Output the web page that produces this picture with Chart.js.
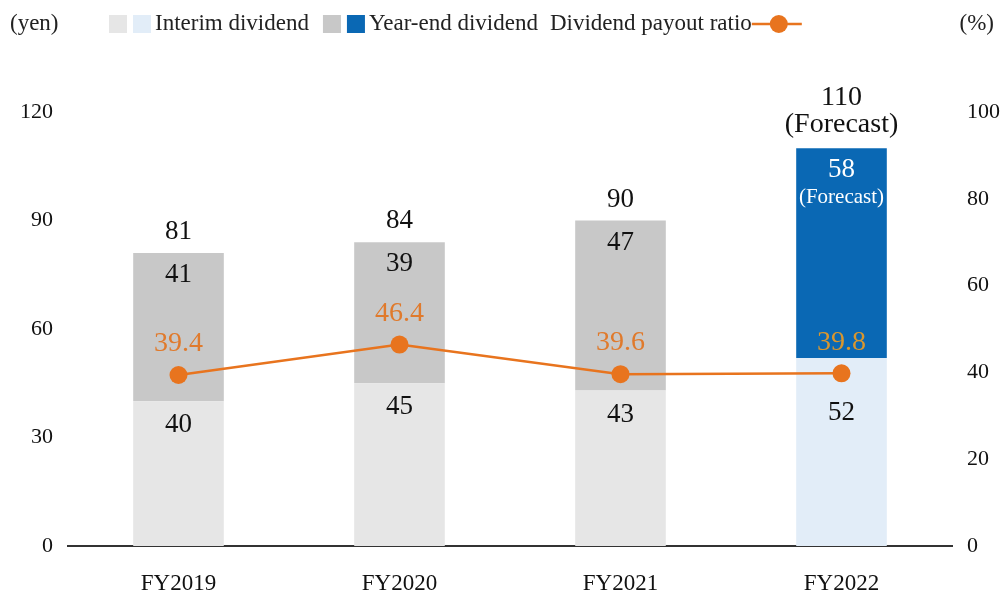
<!DOCTYPE html>
<html>
<head>
<meta charset="utf-8">
<script src="https://cdn.jsdelivr.net/npm/chart.js@4"></script>
<style>
  html, body { margin: 0; padding: 0; background: #fff; }
  #wrap { width: 1005px; height: 596px; }
</style>
</head>
<body>
<div id="wrap"><canvas id="chart"></canvas></div>
<script>
// chart data
var categories = ['FY2019', 'FY2020', 'FY2021', 'FY2022'];
var interim = [40, 45, 43, 52];
var yearEnd = [41, 39, 47, 58];
var totals = [81, 84, 90, 110];
var payoutRatio = [39.4, 46.4, 39.6, 39.8];
var forecast = [false, false, false, true];
var yenTicks = [0, 30, 60, 90, 120];
var pctTicks = [0, 20, 40, 60, 80, 100];

var FONT = '"Liberation Serif", "Times New Roman", serif';
var GRAY_LIGHT = '#e6e6e6', BLUE_LIGHT = '#e2edf8';
var GRAY_DARK = '#c8c8c8', BLUE_DARK = '#0a68b4';
var ORANGE = '#e8741e';

function pick(light, dark) {
    return forecast.map(function (f) { return f ? dark : light; });
}

// legend + units, drawn at the top
var legendPlugin = {
    id: 'topLegend',
    afterDraw: function (chart) {
        var ctx = chart.ctx;
        var y = 24;
        ctx.save();
        ctx.font = '23px ' + FONT;
        ctx.textBaseline = 'middle';
        ctx.fillStyle = '#222';
        ctx.textAlign = 'left';
        ctx.fillText('(yen)', 10, y);
        ctx.textAlign = 'right';
        ctx.fillText('(%)', 994, y);
        ctx.textAlign = 'left';

        var x = 109;
        function box(c1, c2) {
            ctx.fillStyle = c1;
            ctx.fillRect(x, y - 9, 18, 18);
            ctx.fillStyle = c2;
            ctx.fillRect(x + 24, y - 9, 18, 18);
            x += 46;
        }
        function text(t) {
            ctx.fillStyle = '#222';
            ctx.fillText(t, x, y);
            x += ctx.measureText(t).width;
        }
        box(GRAY_LIGHT, BLUE_LIGHT);
        text('Interim dividend');
        x += 14;
        box(GRAY_DARK, BLUE_DARK);
        text('Year-end dividend');
        x += 12;
        text('Dividend payout ratio');
        ctx.strokeStyle = ORANGE;
        ctx.lineWidth = 2.5;
        ctx.beginPath();
        ctx.moveTo(x, y);
        ctx.lineTo(x + 50, y);
        ctx.stroke();
        ctx.fillStyle = ORANGE;
        ctx.beginPath();
        ctx.arc(x + 27, y, 9, 0, Math.PI * 2);
        ctx.fill();
        ctx.restore();
    }
};

// value labels on and above the bars
var labelPlugin = {
    id: 'valueLabels',
    afterDatasetsDraw: function (chart) {
        var ctx = chart.ctx;
        var ys = chart.scales.y, yr = chart.scales.y1;
        var barMeta = chart.getDatasetMeta(1);
        ctx.save();
        ctx.textAlign = 'center';
        ctx.textBaseline = 'middle';
        categories.forEach(function (c, i) {
            var x = barMeta.data[i].x;
            var interimTop = ys.getPixelForValue(interim[i]);
            var totalTop = ys.getPixelForValue(interim[i] + yearEnd[i]);

            ctx.font = '27px ' + FONT;
            ctx.fillStyle = '#111';
            ctx.fillText(String(interim[i]), x, interimTop + (forecast[i] ? 55 : 24));

            if (forecast[i]) {
                ctx.fillStyle = '#fff';
                ctx.fillText(String(yearEnd[i]), x, totalTop + 22);
                ctx.font = '21px ' + FONT;
                ctx.fillText('(Forecast)', x, totalTop + 49);
                ctx.font = '28px ' + FONT;
                ctx.fillStyle = '#111';
                ctx.fillText(String(totals[i]), x, totalTop - 51);
                ctx.fillText('(Forecast)', x, totalTop - 24);
            } else {
                ctx.fillText(String(yearEnd[i]), x, totalTop + 22);
                ctx.fillText(String(totals[i]), x, totalTop - 21);
            }

            var py = yr.getPixelForValue(payoutRatio[i]);
            ctx.font = '28px ' + FONT;
            ctx.fillStyle = forecast[i] ? '#d8962e' : '#e07a2c';
            ctx.fillText(payoutRatio[i].toFixed(1), x, py - 31);
        });
        ctx.restore();
    }
};

new Chart(document.getElementById('chart'), {
    type: 'bar',
    data: {
        labels: categories,
        datasets: [
            {
                type: 'line',
                label: 'Dividend payout ratio',
                data: payoutRatio,
                yAxisID: 'y1',
                borderColor: ORANGE,
                backgroundColor: ORANGE,
                borderWidth: 2.5,
                pointRadius: 9,
                pointHoverRadius: 9,
                pointBorderWidth: 0,
                order: 0
            },
            {
                label: 'Interim dividend',
                data: interim,
                backgroundColor: pick(GRAY_LIGHT, BLUE_LIGHT),
                yAxisID: 'y',
                stack: 'div',
                barPercentage: 0.41,
                categoryPercentage: 1,
                order: 1
            },
            {
                label: 'Year-end dividend',
                data: yearEnd,
                backgroundColor: pick(GRAY_DARK, BLUE_DARK),
                yAxisID: 'y',
                stack: 'div',
                barPercentage: 0.41,
                categoryPercentage: 1,
                order: 1
            }
        ]
    },
    options: {
        responsive: true,
        maintainAspectRatio: false,
        animation: false,
        layout: { padding: { top: 112, left: 0, right: 0, bottom: 0 } },
        plugins: {
            legend: { display: false },
            tooltip: { enabled: false }
        },
        scales: {
            x: {
                stacked: true,
                grid: { display: false, drawTicks: false },
                border: { display: true, color: '#333', width: 2 },
                ticks: { color: '#111', font: { family: FONT, size: 23 }, padding: 24 },
                afterFit: function (s) { s.height = 50; }
            },
            y: {
                stacked: true,
                position: 'left',
                min: 0,
                max: 120,
                afterBuildTicks: function (s) { s.ticks = yenTicks.map(function (v) { return { value: v }; }); },
                grid: { display: false, drawTicks: false },
                border: { display: false },
                ticks: { color: '#111', font: { family: FONT, size: 22 }, crossAlign: 'near', padding: 15 },
                afterFit: function (s) { s.width = 68; }
            },
            y1: {
                position: 'right',
                min: 0,
                max: 100,
                afterBuildTicks: function (s) { s.ticks = pctTicks.map(function (v) { return { value: v }; }); },
                grid: { display: false, drawTicks: false },
                border: { display: false },
                ticks: { color: '#111', font: { family: FONT, size: 22 }, crossAlign: 'near', padding: 15 },
                afterFit: function (s) { s.width = 53; }
            }
        }
    },
    plugins: [labelPlugin, legendPlugin]
});
</script>
</body>
</html>
